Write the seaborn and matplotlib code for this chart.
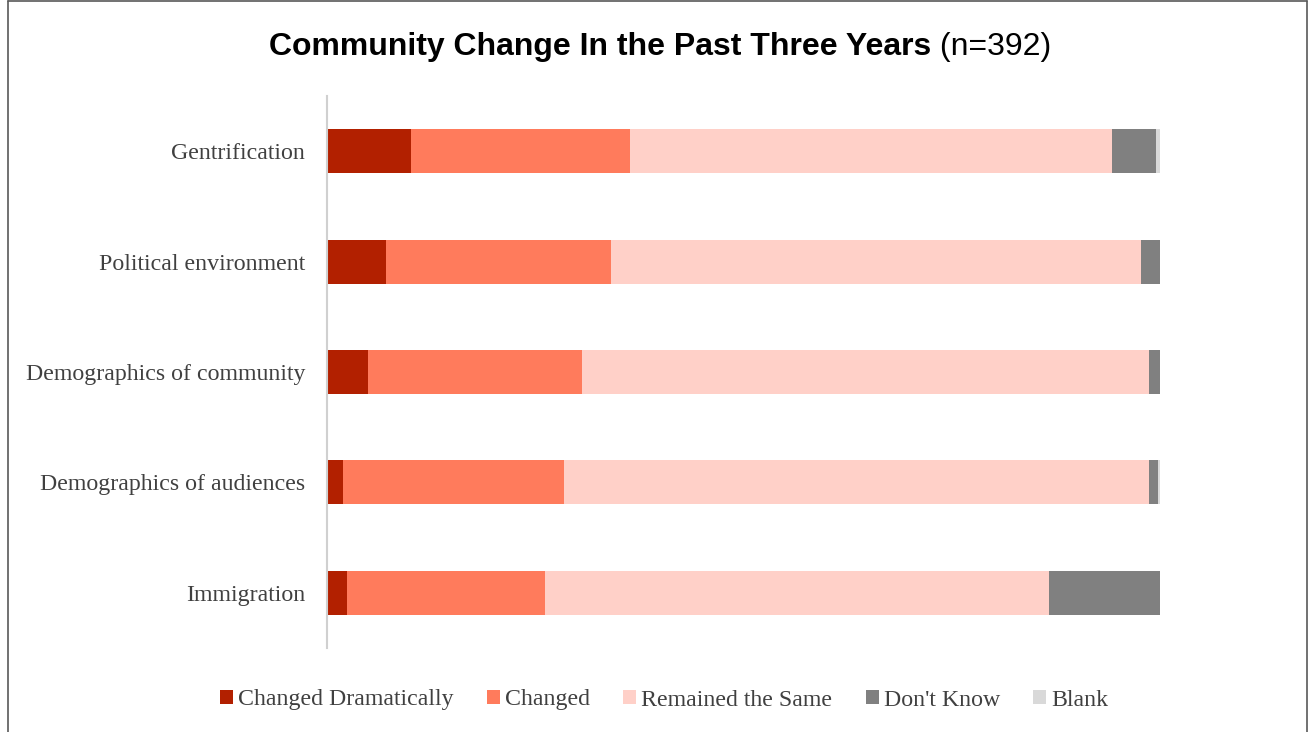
import matplotlib
matplotlib.use("Agg")
import matplotlib.pyplot as plt
from matplotlib.lines import Line2D
from matplotlib.patches import Patch
import seaborn as sns
import pandas as pd
import numpy as np

# Survey responses (percent of respondents, n=392)
categories = ["Gentrification", "Political environment", "Demographics of community",
              "Demographics of audiences", "Immigration"]
changed_dramatically = [10.1, 7.1, 5.0, 2.0, 2.4]
changed = [26.3, 27.0, 25.6, 26.5, 23.8]
remained_same = [57.8, 63.6, 68.1, 70.2, 60.5]
dont_know = [5.3, 2.3, 1.3, 1.1, 13.3]
blank = [0.5, 0.0, 0.0, 0.2, 0.0]

series_names = ["Changed Dramatically", "Changed", "Remained the Same", "Don't Know", "Blank"]
series_values = [changed_dramatically, changed, remained_same, dont_know, blank]
colors = ["#B22000", "#FF7B5C", "#FFD0C8", "#808080", "#D9D9D9"]

df = pd.DataFrame({"category": categories})
cum = np.zeros(len(categories))
for name, vals in zip(series_names, series_values):
    cum = cum + np.array(vals)
    df[name] = cum.copy()

sns.set_style("white")
plt.rcParams["font.family"] = ["Liberation Serif", "DejaVu Serif"]

fig = plt.figure(figsize=(13.13, 7.32), dpi=100)
ax = fig.add_axes([326.7 / 1313, 1 - 648 / 732, (1160 - 326.7) / 1313, (648 - 96) / 732])

# Stacked bars: draw cumulative totals from the outermost segment inward
for name, color in reversed(list(zip(series_names, colors))):
    sns.barplot(data=df, y="category", x=name, color=color, orient="h",
                width=0.4, linewidth=0, ax=ax, saturation=1)

ax.set_xlim(0, 100)
ax.set_ylim(4.5, -0.5)
ax.set_xlabel("")
ax.set_ylabel("")
ax.set_xticks([])
ax.tick_params(axis="y", length=0, pad=15.5, labelsize=17.2, labelcolor="#404040")
for s in ["top", "right", "bottom"]:
    ax.spines[s].set_visible(False)
ax.spines["left"].set_color("#D0D0D0")
ax.spines["left"].set_linewidth(1.5)

# Title: bold main part plus normal-weight sample size
fig.canvas.draw()
renderer = fig.canvas.get_renderer()
title_y = 1 - 47 / 732
t1 = fig.text(0, title_y, "Community Change In the Past Three Years", fontsize=23,
              fontweight="bold", family="Liberation Sans", va="center", ha="left", color="black")
t2 = fig.text(0, title_y, " (n=392)", fontsize=23, family="Liberation Sans",
              va="center", ha="left", color="black")
w1 = t1.get_window_extent(renderer).width
w2 = t2.get_window_extent(renderer).width
x0 = (660 - (w1 + w2) / 2) / 1313
t1.set_x(x0)
t2.set_x(x0 + w1 / 1313)

handles = [Patch(facecolor=c, edgecolor="none", label=n) for n, c in zip(series_names, colors)]
fig.legend(handles=handles, loc="center", bbox_to_anchor=(664 / 1313, 1 - 700 / 732),
           ncol=5, frameon=False, fontsize=17.2, handlelength=0.55, handleheight=0.55,
           handletextpad=0.2, columnspacing=1.4, labelcolor="#404040")

# Outer frame
for xs, ys in [([8 / 1313, 8 / 1313], [0, 1 - 1 / 732]),
               ([1307 / 1313, 1307 / 1313], [0, 1 - 1 / 732]),
               ([8 / 1313, 1307 / 1313], [1 - 1 / 732, 1 - 1 / 732])]:
    fig.add_artist(Line2D(xs, ys, color="#595959", linewidth=1.2, transform=fig.transFigure))

fig.savefig("out.png", dpi=100)
